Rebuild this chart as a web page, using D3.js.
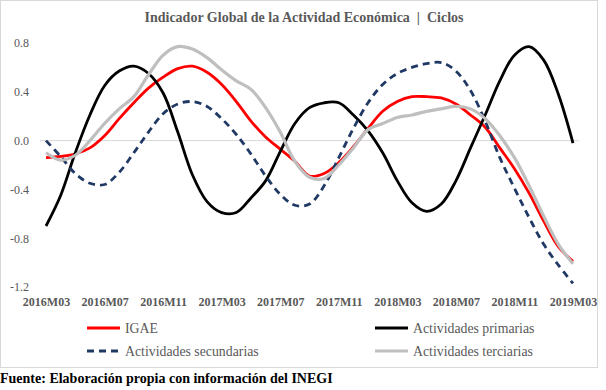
<!DOCTYPE html>
<html>
<head>
<meta charset="utf-8">
<script src="https://cdn.jsdelivr.net/npm/d3@7"></script>
<style>
  html, body { margin: 0; padding: 0; background: #fff; }
  svg { display: block; font-family: "Liberation Serif", "Times New Roman", serif; }
</style>
</head>
<body>
<svg id="chart" width="606" height="390"></svg>
<script>
const months = [
  "2016M03","2016M04","2016M05","2016M06","2016M07","2016M08","2016M09","2016M10","2016M11","2016M12",
  "2017M01","2017M02","2017M03","2017M04","2017M05","2017M06","2017M07","2017M08","2017M09","2017M10",
  "2017M11","2017M12","2018M01","2018M02","2018M03","2018M04","2018M05","2018M06","2018M07","2018M08",
  "2018M09","2018M10","2018M11","2018M12","2019M01","2019M02","2019M03"
];
const tickLabels = ["2016M03","2016M07","2016M11","2017M03","2017M07","2017M11","2018M03","2018M07","2018M11","2019M03"];
const yTicks = [0.8, 0.4, 0.0, -0.4, -0.8, -1.2];

const igae = [-0.14,-0.13,-0.11,-0.06,0.04,0.18,0.31,0.43,0.52,0.59,0.61,0.56,0.46,0.32,0.16,0.03,-0.07,-0.17,-0.29,-0.27,-0.18,-0.05,0.10,0.24,0.32,0.36,0.36,0.35,0.30,0.21,0.11,-0.06,-0.23,-0.43,-0.66,-0.87,-0.99];
const primarias = [-0.70,-0.45,-0.10,0.21,0.45,0.57,0.61,0.55,0.39,0.07,-0.28,-0.50,-0.59,-0.59,-0.47,-0.33,-0.09,0.14,0.27,0.31,0.31,0.21,0.08,-0.10,-0.33,-0.51,-0.58,-0.52,-0.33,-0.06,0.21,0.49,0.70,0.77,0.66,0.38,-0.02];
const secundarias = [0.00,-0.13,-0.27,-0.35,-0.36,-0.26,-0.10,0.07,0.22,0.30,0.32,0.28,0.18,0.05,-0.11,-0.29,-0.44,-0.53,-0.52,-0.37,-0.14,0.10,0.31,0.46,0.55,0.60,0.63,0.64,0.57,0.41,0.16,-0.14,-0.39,-0.63,-0.85,-1.02,-1.17];
const terciarias = [-0.10,-0.16,-0.12,0.00,0.14,0.26,0.36,0.54,0.70,0.77,0.75,0.68,0.58,0.49,0.42,0.27,0.07,-0.17,-0.30,-0.31,-0.20,-0.06,0.09,0.14,0.19,0.21,0.24,0.26,0.28,0.26,0.18,0.04,-0.14,-0.37,-0.62,-0.85,-1.01];

const series = [
  { name: "IGAE", values: igae, color: "#ff0000", width: 2.8, dash: null },
  { name: "Actividades primarias", values: primarias, color: "#000000", width: 2.8, dash: null },
  { name: "Actividades secundarias", values: secundarias, color: "#1f3864", width: 2.8, dash: "7,5" },
  { name: "Actividades terciarias", values: terciarias, color: "#bfbfbf", width: 3.2, dash: null }
];

const svg = d3.select("#chart");
const gray = "#595959";

// chart frame
svg.append("rect")
  .attr("x", 0.5).attr("y", 0.5)
  .attr("width", 597).attr("height", 367)
  .attr("fill", "#fff").attr("stroke", "#d9d9d9");

svg.append("text")
  .attr("x", 304).attr("y", 22)
  .attr("text-anchor", "middle")
  .attr("fill", gray)
  .attr("font-size", 14)
  .attr("font-weight", "bold")
  .attr("xml:space", "preserve")
  .text("Indicador Global de la Actividad Económica  |  Ciclos");

const x = d3.scalePoint().domain(months).range([46, 573]);
const y = d3.scaleLinear().domain([-1.2, 0.8]).range([287, 43]);

// zero line
svg.append("line")
  .attr("x1", 40).attr("x2", 579)
  .attr("y1", y(0)).attr("y2", y(0))
  .attr("stroke", "#d9d9d9").attr("stroke-width", 1);

const yAxis = svg.append("g")
  .attr("transform", "translate(29,0)")
  .call(d3.axisLeft(y).tickValues(yTicks).tickSize(0).tickPadding(0).tickFormat(d3.format(".1f")));
yAxis.select(".domain").remove();
yAxis.selectAll("text")
  .attr("fill", gray)
  .attr("font-size", 12)
  .attr("font-family", "Liberation Serif, serif")
  .text(d => d3.format(".1f")(d).replace("−", "-"));

const xAxis = svg.append("g")
  .attr("transform", "translate(0,297)")
  .call(d3.axisBottom(x).tickValues(tickLabels).tickSize(0).tickPadding(0));
xAxis.select(".domain").remove();
xAxis.selectAll("text")
  .attr("fill", gray)
  .attr("font-size", 12)
  .attr("font-weight", "bold")
  .attr("font-family", "Liberation Serif, serif");

const line = d3.line()
  .x((d, i) => x(months[i]))
  .y(d => y(d))
  .curve(d3.curveCatmullRom.alpha(0.5));

svg.append("g")
  .selectAll("path")
  .data(series)
  .join("path")
  .attr("d", s => line(s.values))
  .attr("fill", "none")
  .attr("stroke", s => s.color)
  .attr("stroke-width", s => s.width)
  .attr("stroke-dasharray", s => s.dash)
  .attr("stroke-linejoin", "round");

// legend: two rows, two columns
const legendPos = [[87, 328], [375, 328], [87, 351], [375, 351]];
const legend = svg.append("g")
  .selectAll("g")
  .data(series)
  .join("g")
  .attr("transform", (s, i) => `translate(${legendPos[i][0]},${legendPos[i][1]})`);
legend.append("line")
  .attr("x1", 0).attr("x2", 33)
  .attr("stroke", s => s.color)
  .attr("stroke-width", s => s.width)
  .attr("stroke-dasharray", s => s.dash);
legend.append("text")
  .attr("x", 38).attr("dy", "0.35em")
  .attr("fill", gray)
  .attr("font-size", 13.8)
  .text(s => s.name);

svg.append("text")
  .attr("x", 0).attr("y", 383)
  .attr("fill", "#000")
  .attr("font-size", 14)
  .attr("font-weight", "bold")
  .text("Fuente: Elaboración propia con información del INEGI");
</script>
</body>
</html>
